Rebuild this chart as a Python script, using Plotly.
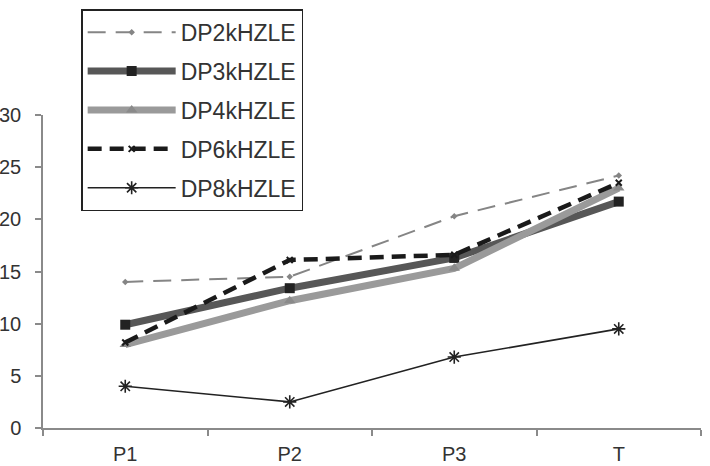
import plotly.graph_objects as go

categories = ["P1", "P2", "P3", "T"]
series_names = ["DP2kHZLE", "DP3kHZLE", "DP4kHZLE", "DP6kHZLE", "DP8kHZLE"]
dp2 = [14.0, 14.5, 20.3, 24.2]
dp3 = [9.9, 13.4, 16.3, 21.7]
dp4 = [8.0, 12.2, 15.3, 23.0]
dp6 = [8.2, 16.1, 16.6, 23.5]
dp8 = [4.0, 2.5, 6.8, 9.5]

styles = [
    dict(line=dict(color="#858585", width=2, dash="18px,10px"),
         marker=dict(symbol="diamond", size=5, color="#858585")),
    dict(line=dict(color="#575757", width=7),
         marker=dict(symbol="square", size=10, color="#222222")),
    dict(line=dict(color="#9a9a9a", width=7),
         marker=dict(symbol="triangle-up", size=10, color="#8a8a8a")),
    dict(line=dict(color="#1a1a1a", width=4.5, dash="14px,8px"),
         marker=dict(symbol="x-thin", size=6, color="#1a1a1a", line=dict(width=2, color="#1a1a1a"))),
    dict(line=dict(color="#222222", width=1.6),
         marker=dict(symbol="asterisk", size=11, color="#222222", line=dict(width=1.6, color="#222222"))),
]

fig = go.Figure()
for i, (name, vals) in enumerate(zip(series_names, [dp2, dp3, dp4, dp6, dp8])):
    fig.add_trace(go.Scatter(x=categories, y=vals, name=name, mode="lines+markers",
                             legendgroup=name, **styles[i]))

fig.update_layout(
    width=710, height=466,
    margin=dict(l=43, r=9, t=115, b=38, autoexpand=False),
    paper_bgcolor="white", plot_bgcolor="white",
    font=dict(family="Liberation Sans, Arial, sans-serif", size=21, color="#333333"),
    showlegend=True,
    legend=dict(x=0.058, y=1.338, xanchor="left", yanchor="top",
                bordercolor="#222222", borderwidth=1.5, bgcolor="white",
                font=dict(size=23, color="#333333"), tracegroupgap=6,
                itemwidth=88),
    xaxis=dict(type="category", range=[-0.5, 3.5], showgrid=False, automargin=False,
               showline=True, linecolor="#8a8a8a", linewidth=1.5,
               ticks="outside", ticklen=6, tickcolor="#8a8a8a", tickwidth=1.5,
               tickson="boundaries", ticklabelstandoff=7,
               tickfont=dict(size=20, color="#333333")),
    yaxis=dict(range=[0, 30], dtick=5, showgrid=False, zeroline=False, automargin=False,
               showline=True, linecolor="#8a8a8a", linewidth=1.5,
               ticks="outside", ticklen=6, tickcolor="#8a8a8a", tickwidth=1.5,
               ticklabelstandoff=10, tickfont=dict(size=20, color="#333333")),
)

fig.write_html("out.html")
